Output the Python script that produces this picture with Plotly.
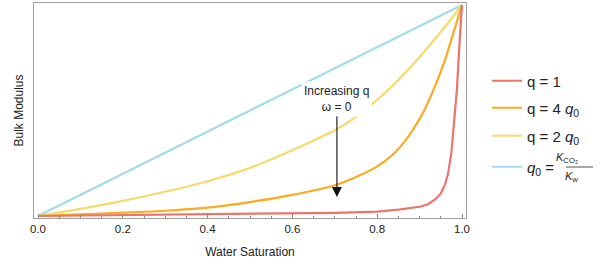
import plotly.graph_objects as go

# ---- data ----
sw_red = [0.0, 0.1, 0.2, 0.3, 0.4, 0.5, 0.6, 0.7, 0.8, 0.85, 0.9, 0.92, 0.94,
          0.95, 0.96, 0.967, 0.975, 0.982, 0.988, 0.993, 0.997, 1.0]
k_red = [0.0, 0.002, 0.004, 0.005, 0.007, 0.009, 0.011, 0.015, 0.021, 0.03, 0.044,
         0.056, 0.084, 0.107, 0.15, 0.2, 0.3, 0.45, 0.6, 0.78, 0.91, 1.0]

sw_orange = [0.0, 0.1, 0.2, 0.3, 0.4, 0.5, 0.6, 0.7, 0.75, 0.8, 0.85, 0.9, 0.93,
             0.96, 0.98, 1.0]
k_orange = [0.0, 0.008, 0.016, 0.025, 0.04, 0.066, 0.1, 0.146, 0.185, 0.235, 0.318,
            0.46, 0.585, 0.74, 0.87, 1.0]

sw_yellow = [0.0, 0.1, 0.2, 0.3, 0.4, 0.5, 0.6, 0.65, 0.7, 0.75, 0.8, 0.85, 0.9,
             0.95, 1.0]
k_yellow = [0.0, 0.034, 0.072, 0.115, 0.165, 0.228, 0.312, 0.358, 0.406, 0.47, 0.55,
            0.645, 0.754, 0.872, 1.0]

sw_blue = [0.0, 0.25, 0.5, 0.75, 1.0]
k_blue = [0.0, 0.25, 0.5, 0.75, 1.0]

x_ticks = [0.0, 0.2, 0.4, 0.6, 0.8, 1.0]
x_tick_labels = ["0.0", "0.2", "0.4", "0.6", "0.8", "1.0"]

FONT = "Liberation Sans, Arial, sans-serif"
TXT = "#222222"
FRAME = "#a0a0a0"

RED = "#e9756b"
ORANGE = "#fdaa1f"
YELLOW = "#f5da6c"
BLUE = "#a3dcec"

fig = go.Figure()

fig.add_trace(go.Scatter(x=sw_blue, y=k_blue, mode="lines",
                         line=dict(color=BLUE, width=2.2),
                         name="<i>q</i><sub>0</sub> =", legend="legend4"))
fig.add_trace(go.Scatter(x=sw_yellow, y=k_yellow, mode="lines",
                         line=dict(color=YELLOW, width=2.2, shape="spline", smoothing=0.8),
                         name="q = 2 <i>q</i><sub>0</sub>", legend="legend3"))
fig.add_trace(go.Scatter(x=sw_orange, y=k_orange, mode="lines",
                         line=dict(color=ORANGE, width=2.2, shape="spline", smoothing=0.8),
                         name="q = 4 <i>q</i><sub>0</sub>", legend="legend2"))
fig.add_trace(go.Scatter(x=sw_red, y=k_red, mode="lines",
                         line=dict(color=RED, width=2.2),
                         name="q = 1", legend="legend"))

# plot area in pixels: x 34..466, y 3..218
L, R, T, B = 34, 140, 3, 47
W, H = 606, 265
PW, PH = W - L - R, H - T - B


def px(xp):
    return (xp - L) / PW


def py(yp):
    return (H - B - yp) / PH


leg_common = dict(font=dict(family=FONT, size=15, color=TXT), bgcolor="rgba(0,0,0,0)",
                  xanchor="left", yanchor="middle", itemwidth=30, borderwidth=0,
                  tracegroupgap=0)
lx = px(487)
fig.update_layout(
    legend=dict(x=lx, y=py(81), **leg_common),
    legend2=dict(x=lx, y=py(108), **leg_common),
    legend3=dict(x=lx, y=py(136), **leg_common),
    legend4=dict(x=lx, y=py(167), **leg_common),
)

# fraction K_CO2 / K_w next to the q0 legend entry
fig.add_annotation(xref="paper", yref="paper", x=px(579), y=py(166),
                   yanchor="bottom", text="<i>K</i><sub>CO₂</sub>", showarrow=False,
                   font=dict(family=FONT, size=11, color=TXT), borderpad=0)
fig.add_annotation(xref="paper", yref="paper", x=px(579), y=py(169),
                   yanchor="top", text="<i>K</i><sub>w</sub>", showarrow=False,
                   font=dict(family=FONT, size=11, color=TXT), borderpad=0)
fig.add_shape(type="line", xref="paper", yref="paper",
              x0=px(566), x1=px(593), y0=py(167), y1=py(167),
              line=dict(color=TXT, width=0.8))

# annotation text with its downward arrow
fig.add_annotation(x=0.705, y=0.09, ax=0.705, ay=0.556, xref="x", yref="y",
                   axref="x", ayref="y", text="Increasing q<br>ω = 0", showarrow=True,
                   arrowhead=2, arrowsize=1.8, arrowwidth=1.1, arrowcolor="#111111",
                   standoff=0, startstandoff=0,
                   font=dict(family=FONT, size=12, color=TXT),
                   bgcolor="white", borderpad=2)

fig.update_xaxes(range=[-4 / 424, 1 + 4 / 424], showgrid=False, zeroline=False,
                 showline=True, mirror=True, linecolor=FRAME, linewidth=1,
                 ticks="inside", ticklen=4, tickcolor="#888888", tickwidth=1,
                 tickvals=x_ticks, ticktext=x_tick_labels,
                 minor=dict(dtick=0.05, tick0=0, ticks="inside", ticklen=2.5,
                            tickcolor="#888888", showgrid=False),
                 tickfont=dict(family=FONT, size=11.5, color=TXT),
                 title=dict(text="Water Saturation", standoff=13,
                            font=dict(family=FONT, size=12, color=TXT)))
fig.update_yaxes(range=[-2 / 211, 1 + 2 / 211], showgrid=False, zeroline=False,
                 showline=True, mirror=True, linecolor=FRAME, linewidth=1,
                 showticklabels=False, ticks="",
                 title=dict(text="Bulk Modulus", standoff=6,
                            font=dict(family=FONT, size=12, color=TXT)))

fig.update_layout(width=W, height=H, margin=dict(l=L, r=R, t=T, b=B, autoexpand=False),
                  paper_bgcolor="white", plot_bgcolor="white", showlegend=True)

fig.write_html("out.html", config={"displayModeBar": False},
               post_script="document.body.style.margin='0';document.body.style.overflow='hidden';")
